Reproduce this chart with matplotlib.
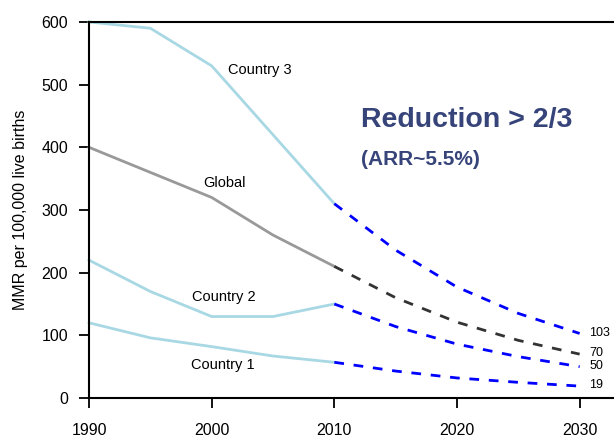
import numpy as np
import matplotlib.pyplot as plt

plt.rcParams['font.family'] = ['Liberation Sans', 'DejaVu Sans']

years = [1990, 1995, 2000, 2005, 2010]
proj_years = [2010, 2015, 2020, 2025, 2030]

country3 = [600, 590, 530, 420, 310]
global_mmr = [400, 360, 320, 260, 210]
country2 = [220, 170, 130, 130, 150]
country1 = [120, 96, 82, 67, 57]

country3_proj = [310, 236, 177, 135, 103]
global_proj = [210, 160, 121, 92, 70]
country2_proj = [150, 114, 86, 66, 50]
country1_proj = [57, 43, 32, 25, 19]

fig = plt.figure(figsize=(6.14, 4.38), dpi=100)
ax = fig.add_axes([0.145, 0.0913, 0.855, 0.8585])

light = '#a8d8e4'
ax.plot(years, country3, color=light, lw=2, clip_on=False)
ax.plot(years, global_mmr, color='#999999', lw=2, clip_on=False)
ax.plot(years, country2, color=light, lw=2, clip_on=False)
ax.plot(years, country1, color=light, lw=2, clip_on=False)

dash = (0, (3.5, 3.5))
ax.plot(proj_years, country3_proj, color='#0000ff', lw=2, ls=dash)
ax.plot(proj_years, global_proj, color='#333333', lw=2, ls=dash)
ax.plot(proj_years, country2_proj, color='#0000ff', lw=2, ls=dash)
ax.plot(proj_years, country1_proj, color='#0000ff', lw=2, ls=dash)

ax.text(2001.3, 523, 'Country 3', fontsize=10.5, va='center')
ax.text(1999.3, 343, 'Global', fontsize=10.5, va='center')
ax.text(1998.4, 161, 'Country 2', fontsize=10.5, va='center')
ax.text(1998.3, 53, 'Country 1', fontsize=10.5, va='center')

ends = [103, 70, 50, 19]
end_y = [104, 72, 51, 21]
for v, yy in zip(ends, end_y):
    ax.text(2030.8, yy, str(v), fontsize=9, va='center')

ax.text(2012.2, 443, 'Reduction > 2/3', fontsize=20.5, fontweight='bold',
        color='#37447a', va='center')
ax.text(2012.2, 380, '(ARR~5.5%)', fontsize=15, fontweight='bold',
        color='#37447a', va='center')

ax.set_xlim(1990, 2032.8)
ax.set_ylim(0, 600)
ax.set_xticks([1990, 2000, 2010, 2020, 2030])
ax.set_yticks([0, 100, 200, 300, 400, 500, 600])
ax.tick_params(direction='out', length=7, width=1.3, labelsize=11.5)
ax.tick_params(axis='x', pad=11)
ax.tick_params(axis='y', pad=8)
ax.spines['right'].set_visible(False)
for s in ['left', 'bottom', 'top']:
    ax.spines[s].set_linewidth(1.5)
ax.set_ylabel('MMR per 100,000 live births', fontsize=11.5, labelpad=10)

fig.savefig('out.png', dpi=100)
